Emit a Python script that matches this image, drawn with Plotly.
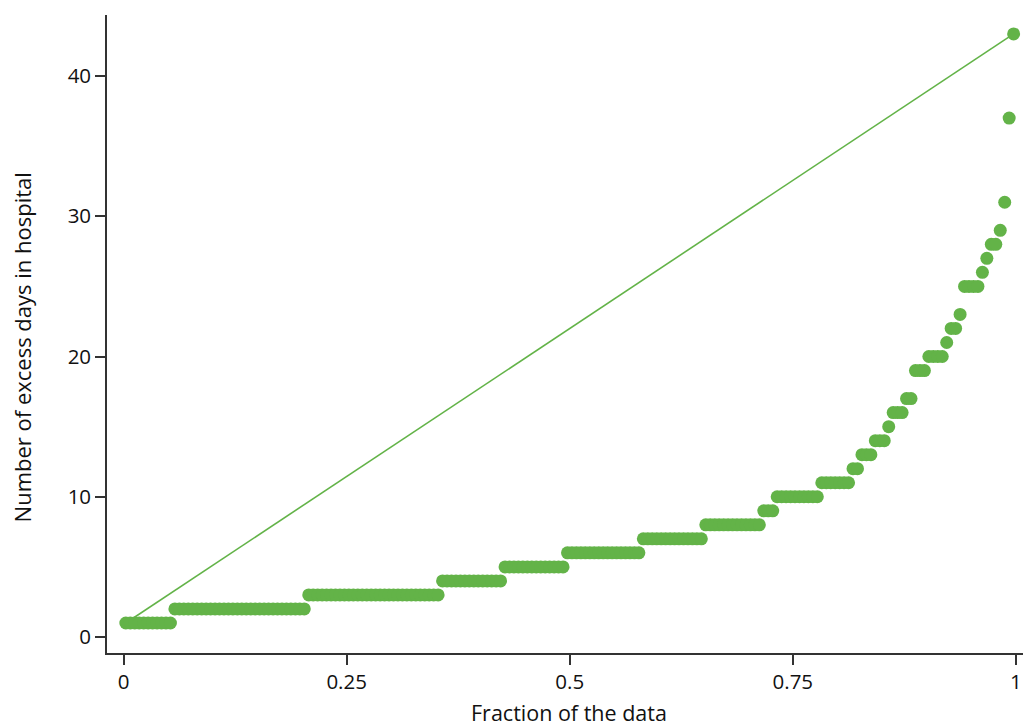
import numpy as np
import plotly.graph_objects as go

# Distinct values of excess days and how many patients had each value
excess_days = [1, 2, 3, 4, 5, 6, 7, 8, 9, 10, 11, 12, 13, 14, 15, 16, 17, 19,
               20, 21, 22, 23, 25, 26, 27, 28, 29, 31, 37, 43]
patient_counts = [11, 30, 30, 14, 14, 17, 14, 13, 3, 10, 7, 2, 3, 3, 1, 3, 2, 3,
                  4, 1, 2, 1, 4, 1, 1, 2, 1, 1, 1, 1]

x_tick_vals = [0, 0.25, 0.5, 0.75, 1]
x_tick_text = ["0", "0.25", "0.5", "0.75", "1"]
y_tick_vals = [0, 10, 20, 30, 40]

GREEN = "#63b348"
AXIS = "#333333"
TEXT = "#111111"
FONT = "Open Sans"

# Sorted sample and quantile plotting positions (i - 0.5) / n
sorted_days = np.repeat(excess_days, patient_counts)
n = len(sorted_days)
fraction = (np.arange(1, n + 1) - 0.5) / n

fig = go.Figure()

# Reference line joining the smallest and largest observations
fig.add_trace(go.Scatter(
    x=[fraction[0], fraction[-1]],
    y=[sorted_days[0], sorted_days[-1]],
    mode="lines",
    line=dict(color=GREEN, width=1.6),
    hoverinfo="skip",
    showlegend=False,
))

fig.add_trace(go.Scatter(
    x=fraction,
    y=sorted_days,
    mode="markers",
    marker=dict(color=GREEN, size=13, line=dict(width=0)),
    showlegend=False,
))

axis_common = dict(
    showline=True,
    linecolor=AXIS,
    linewidth=1.6,
    ticks="outside",
    ticklen=10,
    tickwidth=1.6,
    tickcolor=AXIS,
    showgrid=False,
    zeroline=False,
    tickfont=dict(family=FONT, size=20.5, color=TEXT),
)

fig.update_layout(
    width=1024,
    height=727,
    margin=dict(l=107, r=1, t=15, b=74, autoexpand=False),
    paper_bgcolor="white",
    plot_bgcolor="white",
    font=dict(family=FONT, size=20.5, color=TEXT),
    xaxis=dict(
        range=[-0.0186, 1.008],
        tickvals=x_tick_vals,
        ticktext=x_tick_text,
        ticklabelstandoff=0,
        **axis_common,
    ),
    yaxis=dict(
        range=[-1.14, 44.35],
        tickvals=y_tick_vals,
        **axis_common,
    ),
    annotations=[
        dict(
            text="Fraction of the data",
            xref="paper", yref="paper",
            x=0.504, y=-0.0935,
            xanchor="center", yanchor="middle",
            showarrow=False,
            font=dict(family=FONT, size=21.5, color=TEXT),
        ),
        dict(
            text="Number of excess days in hospital",
            xref="paper", yref="paper",
            x=-0.0928, y=0.479,
            xanchor="center", yanchor="middle",
            textangle=-90,
            showarrow=False,
            font=dict(family=FONT, size=22, color=TEXT),
        ),
    ],
)

fig.write_html("out.html")
